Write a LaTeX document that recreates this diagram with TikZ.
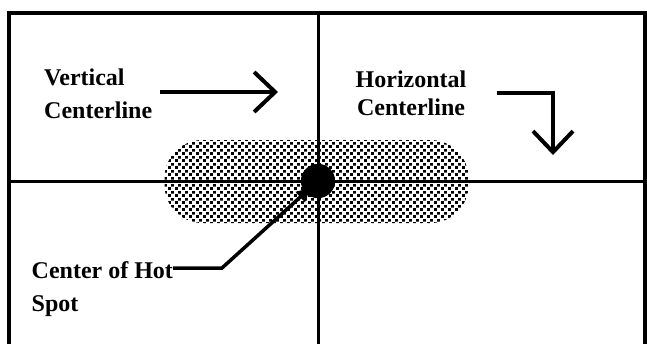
\documentclass[tikz,border=0pt]{standalone}
\usepackage{fontspec}
\setmainfont{Liberation Serif}
\usetikzlibrary{positioning, arrows.meta, patterns}

\pgfdeclarepatternformonly{hotdots}{\pgfqpoint{0pt}{0pt}}{\pgfqpoint{7pt}{7pt}}{\pgfqpoint{7pt}{7pt}}{%
  \pgfpathrectangle{\pgfqpoint{0.2pt}{0.2pt}}{\pgfqpoint{3pt}{3pt}}%
  \pgfpathrectangle{\pgfqpoint{3.7pt}{3.7pt}}{\pgfqpoint{3pt}{3pt}}%
  \pgfusepath{fill}}

\tikzset{
  label text/.style={inner sep=0pt, font=\bfseries\fontsize{24}{#1}\selectfont},
  centerline/.style={line width=3pt},
  pointer/.style={line width=4pt, -{Straight Barb[length=21pt, width=40pt]}},
}

\begin{document}
\begin{tikzpicture}[x=1pt, y=-1pt]
  \useasboundingbox (0,0) rectangle (647,343);
  \clip (0,0) rectangle (647,343);

  % hot spot zone and frame
  \node[pattern=hotdots, pattern color=black, rounded corners=38pt,
        minimum width=304pt, minimum height=83pt, inner sep=0pt] (zone) at (316.5,181.5) {};
  \node[draw, line width=4pt, minimum width=636pt, minimum height=367pt] (panel) at (327,196) {};

  \node[circle, fill, minimum size=34pt, inner sep=0pt] (hotspot) at (318,181) {};
  \draw[centerline] (panel.north -| hotspot) -- (panel.south -| hotspot);
  \draw[centerline] (panel.west |- hotspot) -- (panel.east |- hotspot);
  \node[circle, fill, minimum size=34pt, inner sep=0pt] at (hotspot) {};

  % labels
  \node[label text=32.5pt, align=left, anchor=north west] (vlabel) at (44,69) {Vertical\\Centerline};
  \node[label text=28pt, align=center, anchor=north west] (hlabel) at (355.5,71) {Horizontal\\Centerline};
  \node[label text=33pt, align=left, anchor=north west] (slabel) at (31.5,261) {Center of Hot\\Spot};

  % arrows
  \coordinate (vtip) at (278,92);
  \coordinate (hstart) at (497,93);
  \coordinate (htip) at (553,155);
  \coordinate (sbend) at (222,268);
  \draw[pointer] ([xshift=8pt]vlabel.east |- vtip) -- (vtip);
  \draw[pointer, line join=miter] (hstart) -| (htip);
  \draw[line width=3.5pt, -{Triangle[length=14pt, width=13pt]}, shorten >=10pt]
    (slabel.east |- sbend) -- (sbend) -- (hotspot.center);
\end{tikzpicture}
\end{document}
